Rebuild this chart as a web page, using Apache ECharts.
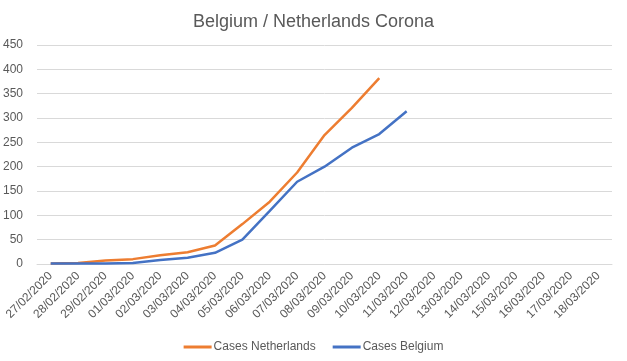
<!DOCTYPE html>
<html><head><meta charset="utf-8">
<script src="https://cdn.jsdelivr.net/npm/echarts@6/dist/echarts.min.js"></script>
<style>html,body{margin:0;padding:0;background:#fff}#c{width:627px;height:361px}</style>
</head><body><div id="c"></div>
<script>
const categories = ['27/02/2020','28/02/2020','29/02/2020','01/03/2020','02/03/2020','03/03/2020','04/03/2020','05/03/2020','06/03/2020','07/03/2020','08/03/2020','09/03/2020','10/03/2020','11/03/2020','12/03/2020','13/03/2020','14/03/2020','15/03/2020','16/03/2020','17/03/2020','18/03/2020'];
const netherlands = [1, 2, 7, 10, 18, 24, 38, 82, 128, 188, 265, 321, 382];
const belgium = [1, 1, 1, 2, 8, 13, 23, 50, 109, 169, 200, 239, 267, 314];
const yTicks = {min: 0, max: 450, interval: 50};

const font = '"Liberation Sans", "Open Sans", sans-serif';
const chart = echarts.init(document.getElementById('c'));
chart.setOption({
  animation: false,
  title: {text: 'Belgium / Netherlands Corona', left: 'center', top: 8,
    textStyle: {fontFamily: font, fontSize: 18, fontWeight: 'normal', color: '#595959'}},
  legend: {top: 336, left: 'center', itemWidth: 28, itemHeight: 3, itemGap: 17,
    icon: 'rect',
    textStyle: {fontFamily: font, fontSize: 12, color: '#595959', padding: [0, 0, 0, -3]},
    data: ['Cases Netherlands', 'Cases Belgium']},
  grid: {left: 36, right: 15, top: 45, bottom: 97},
  xAxis: {type: 'category', data: categories, boundaryGap: true,
    axisLine: {lineStyle: {color: '#d9d9d9'}}, axisTick: {show: false},
    axisLabel: {rotate: 45, interval: 0, fontFamily: font, fontSize: 12, color: '#595959', margin: 10}},
  yAxis: {type: 'value', min: yTicks.min, max: yTicks.max, interval: yTicks.interval,
    axisLine: {show: false}, axisTick: {show: false},
    splitLine: {lineStyle: {color: '#d9d9d9'}},
    axisLabel: {fontFamily: font, fontSize: 12, color: '#595959', margin: 14}},
  series: [
    {name: 'Cases Netherlands', type: 'line', data: netherlands, symbol: 'none',
      lineStyle: {width: 2.5, color: '#ED7D31'}, itemStyle: {color: '#ED7D31'}},
    {name: 'Cases Belgium', type: 'line', data: belgium, symbol: 'none',
      lineStyle: {width: 2.5, color: '#4472C4'}, itemStyle: {color: '#4472C4'}}
  ]
});
</script></body></html>
